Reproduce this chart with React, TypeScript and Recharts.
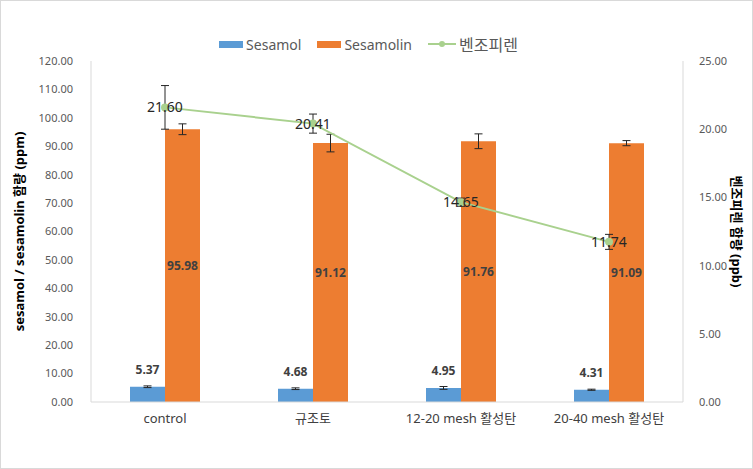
import React from "react";
import {
  ComposedChart,
  Bar,
  Line,
  XAxis,
  YAxis,
  Legend,
  ErrorBar,
  LabelList,
} from "recharts";

const categories = ["control", "규조토", "12-20 mesh 활성탄", "20-40 mesh 활성탄"];
const sesamol = [5.37, 4.68, 4.95, 4.31];
const sesamolErr = [0.3, 0.3, 0.5, 0.2];
const sesamolin = [95.98, 91.12, 91.76, 91.09];
const sesamolinErr = [1.9, 3.1, 2.6, 0.9];
const bap = [21.6, 20.41, 14.65, 11.74];
const bapErr = [1.6, 0.7, 0.3, 0.55];
const leftTicks = [0, 10, 20, 30, 40, 50, 60, 70, 80, 90, 100, 110, 120];
const rightTicks = [0, 5, 10, 15, 20, 25];

const data = categories.map((name, i) => ({
  name,
  sesamol: sesamol[i],
  sesamolErr: sesamolErr[i],
  sesamolin: sesamolin[i],
  sesamolinErr: sesamolinErr[i],
  bap: bap[i],
  bapErr: bapErr[i],
}));

const FONT = "'Noto Sans', 'Noto Sans CJK KR', sans-serif";
const fmt = (v: number) => Number(v).toFixed(2);

function LegendBox() {
  const item = { display: "flex", alignItems: "center", marginRight: 16 } as const;
  return (
    <div
      style={{
        display: "flex",
        justifyContent: "center",
        height: 20,
        fontFamily: FONT,
        fontSize: 14,
        color: "#595959",
      }}
    >
      <div style={item}>
        <span style={{ width: 24, height: 7, background: "#5B9BD5", marginRight: 3 }} />
        Sesamol
      </div>
      <div style={item}>
        <span style={{ width: 24, height: 7, background: "#ED7D31", marginRight: 3 }} />
        Sesamolin
      </div>
      <div style={item}>
        <svg width={28} height={10} style={{ marginRight: 3 }}>
          <line x1={0} y1={5} x2={28} y2={5} stroke="#A9D18E" strokeWidth={2} />
          <circle cx={14} cy={5} r={3} fill="#A9D18E" />
        </svg>
        <span style={{ fontFamily: "'Noto Sans CJK KR', sans-serif", fontSize: 16 }}>벤조피렌</span>
      </div>
    </div>
  );
}

export default function App() {
  return (
    <div
      style={{
        position: "fixed",
        left: 0,
        top: 0,
        width: 753,
        height: 469,
        boxSizing: "border-box",
        border: "1px solid #D9D9D9",
        background: "#fff",
      }}
    >
      <ComposedChart
        width={751}
        height={467}
        data={data}
        margin={{ top: 40, right: 0, left: 0, bottom: 0 }}
        barGap={0}
        barSize={35}
        style={{ fontFamily: FONT }}
      >
        <Legend
          verticalAlign="top"
          content={() => <LegendBox />}
          wrapperStyle={{ top: 33 }}
        />
        <XAxis
          dataKey="name"
          axisLine={{ stroke: "#D9D9D9" }}
          tickLine={false}
          tickMargin={6}
          height={66}
          tick={{ fill: "#404040", fontSize: 13 }}
        />
        <YAxis
          yAxisId="left"
          domain={[0, 120]}
          ticks={leftTicks}
          tickFormatter={fmt}
          width={90}
          axisLine={{ stroke: "#D9D9D9" }}
          tickLine={false}
          tickMargin={12}
          tick={{ fill: "#595959", fontSize: 11 }}
          label={({ viewBox }: any) => (
            <text
              x={18}
              y={viewBox.y + viewBox.height / 2}
              transform={`rotate(-90, 18, ${viewBox.y + viewBox.height / 2})`}
              textAnchor="middle"
              dominantBaseline="central"
              fontSize={13}
              fontWeight="bold"
              fill="#000"
              fontFamily={FONT}
            >
              sesamol / sesamolin 함량 (ppm)
            </text>
          )}
        />
        <YAxis
          yAxisId="right"
          orientation="right"
          domain={[0, 25]}
          ticks={rightTicks}
          tickFormatter={fmt}
          width={69}
          axisLine={{ stroke: "#D9D9D9" }}
          tickLine={false}
          tickMargin={10}
          tick={{ fill: "#595959", fontSize: 11, textAnchor: "start" }}
          label={({ viewBox }: any) => (
            <text
              x={736}
              y={viewBox.y + viewBox.height / 2}
              transform={`rotate(90, 736, ${viewBox.y + viewBox.height / 2})`}
              textAnchor="middle"
              dominantBaseline="central"
              fontSize={13}
              fontWeight="bold"
              fill="#000"
              fontFamily={FONT}
            >
              벤조피렌 함량 (ppb)
            </text>
          )}
        />
        <Bar yAxisId="left" dataKey="sesamol" fill="#5B9BD5" isAnimationActive={false}>
          <ErrorBar dataKey="sesamolErr" width={4} stroke="#262626" strokeWidth={1} />
          <LabelList
            dataKey="sesamol"
            position="top"
            offset={13}
            formatter={(v: any) => fmt(v)}
            fill="#404040"
            fontSize={12}
            fontWeight="bold"
          />
        </Bar>
        <Bar yAxisId="left" dataKey="sesamolin" fill="#ED7D31" isAnimationActive={false}>
          <ErrorBar dataKey="sesamolinErr" width={4} stroke="#262626" strokeWidth={1} />
          <LabelList
            dataKey="sesamolin"
            position="center"
            formatter={(v: any) => fmt(v)}
            fill="#404040"
            fontSize={12}
            fontWeight="bold"
          />
        </Bar>
        <Line
          yAxisId="right"
          dataKey="bap"
          stroke="#A9D18E"
          strokeWidth={2}
          dot={{ r: 3, fill: "#A9D18E", stroke: "#A9D18E" }}
          isAnimationActive={false}
        >
          <ErrorBar dataKey="bapErr" width={4} stroke="#262626" strokeWidth={1} direction="y" />
          <LabelList
            dataKey="bap"
            position="center"
            formatter={(v: any) => fmt(v)}
            fill="#262626"
            fontSize={14}
          />
        </Line>
      </ComposedChart>
    </div>
  );
}
